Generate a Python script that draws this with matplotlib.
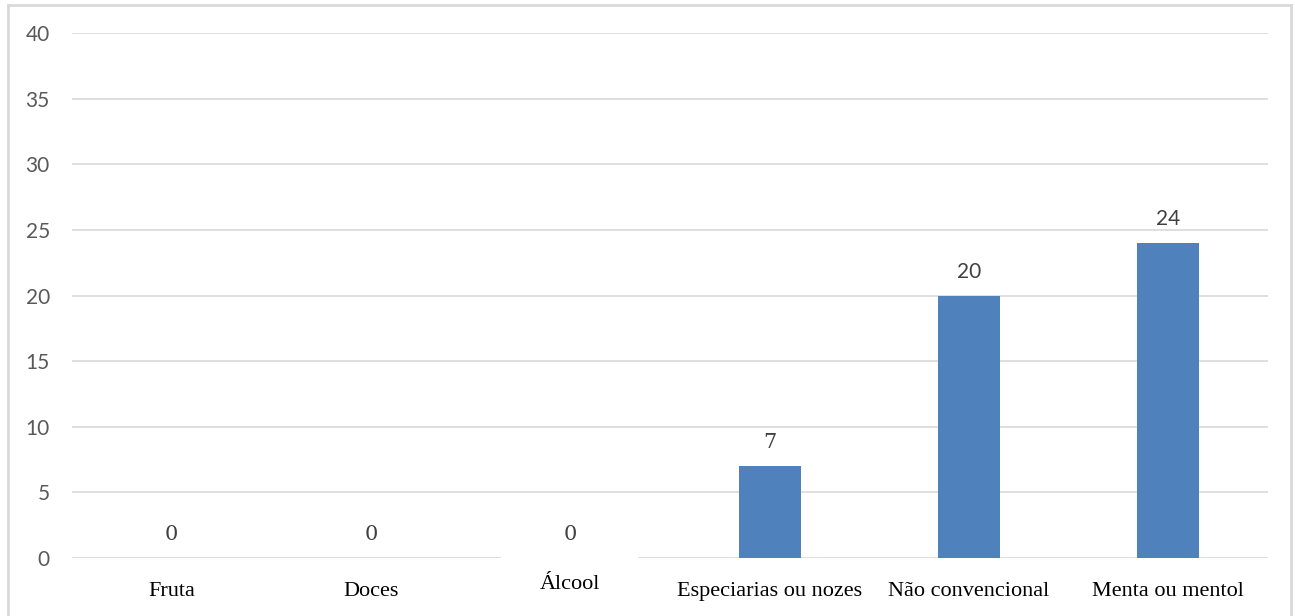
import matplotlib
matplotlib.use("Agg")
import matplotlib.pyplot as plt
from matplotlib.patches import Rectangle
from matplotlib.lines import Line2D
import matplotlib.transforms as mtransforms
import numpy as np

# data
categories = ["Fruta", "Doces", "Álcool", "Especiarias ou nozes", "Não convencional", "Menta ou mentol"]
values = [0, 0, 0, 7, 20, 24]
y_ticks = [0, 5, 10, 15, 20, 25, 30, 35, 40]

bar_color = "#4F81BD"
grid_color = "#d9d9d9"

fig = plt.figure(figsize=(12.95, 6.16), dpi=100)
ax = fig.add_axes([72 / 1295, 1 - 558 / 616, (1268 - 72) / 1295, (558 - 33) / 616])

x = np.arange(len(categories))
ax.bar(x, values, width=0.31, color=bar_color, zorder=3)

ax.set_xlim(-0.5, len(categories) - 0.5)
ax.set_ylim(0, 40)
ax.set_yticks(y_ticks)
ax.set_yticklabels([str(t) for t in y_ticks], fontsize=15, color="#595959", family="Lato")
ax.yaxis.grid(True, color=grid_color, linewidth=1.2, zorder=0)
ax.set_axisbelow(True)
ax.tick_params(axis="y", length=0, pad=16)
ax.tick_params(axis="x", length=0, pad=17)
for s in ax.spines.values():
    s.set_visible(False)

# the Álcool label sits a bit higher and hides the base line behind it
tick_text = [c if c != "Álcool" else "" for c in categories]
ax.set_xticks(x)
ax.set_xticklabels(tick_text, fontsize=16, color="black", family="Liberation Serif")

trans = mtransforms.blended_transform_factory(ax.transData, ax.transAxes)
i = categories.index("Álcool")
ax.add_patch(Rectangle((i - 0.35, -0.1), 0.69, 0.105, transform=trans,
                       facecolor="white", edgecolor="none", zorder=2.6, clip_on=False))
ax.text(i, -0.05, categories[i], transform=trans, ha="center", va="center",
        fontsize=16, color="black", family="Liberation Serif", zorder=2.7)

# data labels
for xi, v in zip(x, values):
    ax.annotate(str(v), (xi, v), xytext=(0, 10), textcoords="offset points",
                ha="center", va="bottom", fontsize=15, color="#404040",
                family="DejaVu Serif" if v < 10 else "Lato")

# outer frame
fig.add_artist(Line2D([8 / 1295, 8 / 1295], [0, 1 - 5 / 616], color=grid_color, linewidth=2))
fig.add_artist(Line2D([8 / 1295, 1291 / 1295], [1 - 5 / 616, 1 - 5 / 616], color=grid_color, linewidth=2))
fig.add_artist(Line2D([1291 / 1295, 1291 / 1295], [0, 1 - 5 / 616], color=grid_color, linewidth=2))

fig.savefig("out.png", dpi=100, facecolor="white")
